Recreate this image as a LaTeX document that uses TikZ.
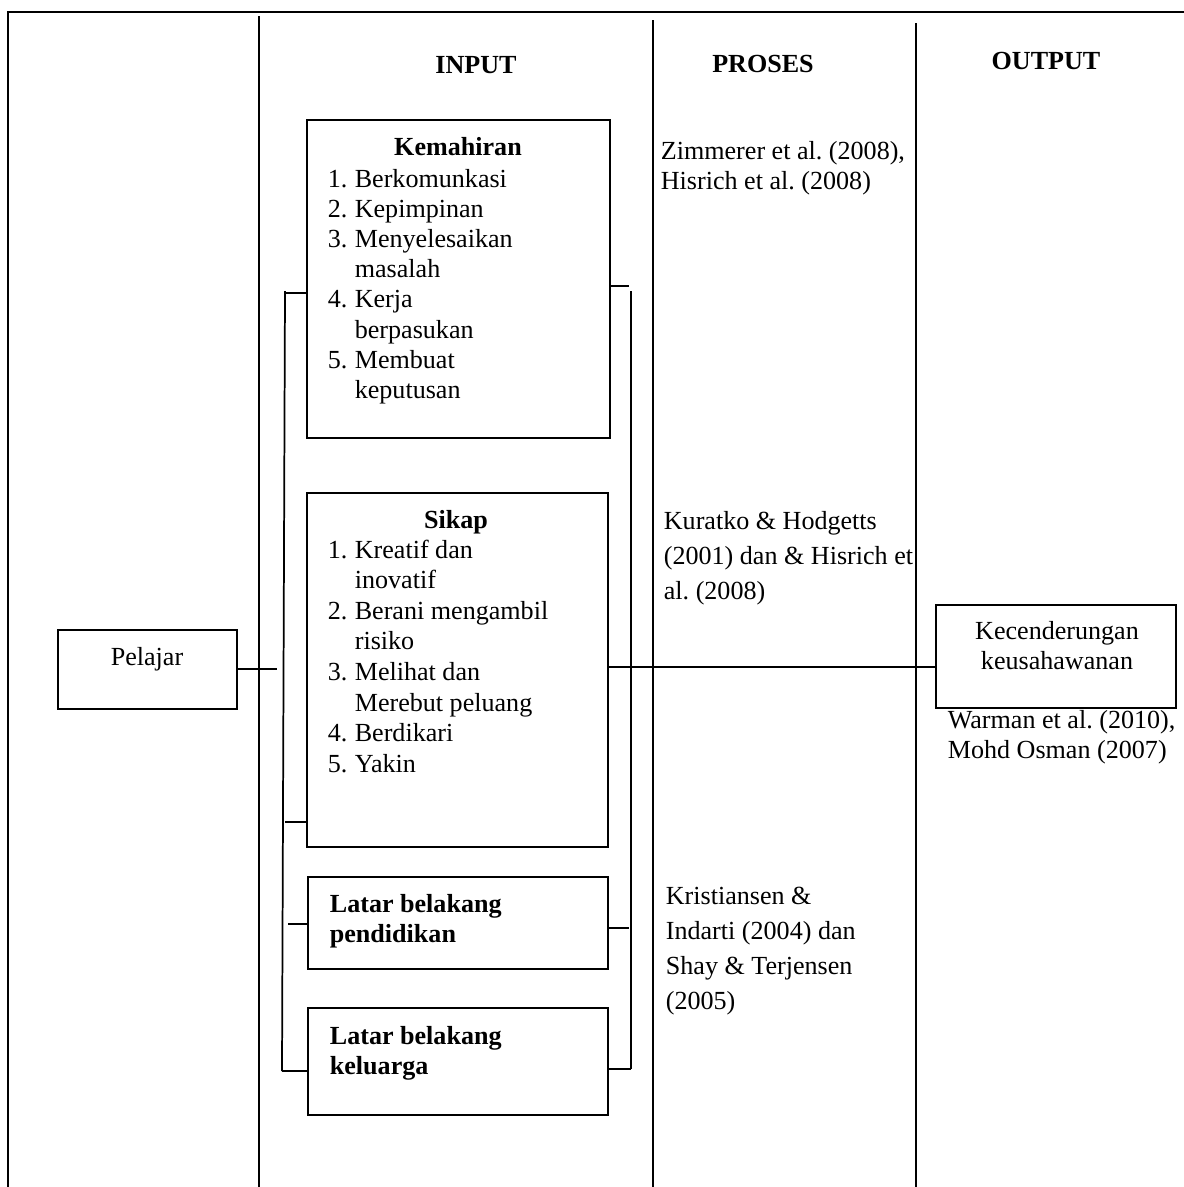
\documentclass[tikz,border=0pt]{standalone}
\usepackage{fontspec}
\setmainfont{Liberation Serif}
\usetikzlibrary{fit}
\frenchspacing
\begin{document}
\begin{tikzpicture}[x=0.46pt,y=-0.46pt,line width=0.8pt,
  boxst/.style={draw,line width=0.9pt,inner sep=0pt},
  txt/.style={inner sep=0pt,font=\fontsize{12}{13.9}\selectfont},
  txtwide/.style={inner sep=0pt,font=\fontsize{12}{16.2}\selectfont},
  hdr/.style={inner sep=0pt,font=\fontsize{12}{14}\selectfont\bfseries,anchor=base},
  bold/.style={inner sep=0pt,font=\fontsize{12}{13.9}\selectfont\bfseries}]
\useasboundingbox (0,0) rectangle (1184,1187);
% frame and columns
\coordinate (fbl) at (8,1187);
\coordinate (ftl) at (8,12);
\coordinate (ftr) at (1184,12);
\draw (fbl) -- (ftl) -- (ftr);
\coordinate (c1t) at (259,16);  \coordinate (c1b) at (259,1187);
\coordinate (c2t) at (653,20);  \coordinate (c2b) at (653,1187);
\coordinate (c3t) at (916,23);  \coordinate (c3b) at (916,1187);
\draw (c1t) -- (c1b);
\draw (c2t) -- (c2b);
\draw (c3t) -- (c3b);
% headers
\node[hdr] (hin) at (476,73) {INPUT};
\node[hdr] (hpr) at (763,72) {PROSES};
\node[hdr] (hout) at (1046,69) {OUTPUT};
% boxes
\node[boxst,fit={(307,120) (610,438)}] (kem) {};
\node[boxst,fit={(307,493) (608,847)}] (sik) {};
\node[boxst,fit={(308,877) (608,969)}] (pend) {};
\node[boxst,fit={(308,1008) (608,1115)}] (kel) {};
\node[boxst,fit={(58,630) (237,709)}] (pel) {};
\node[boxst,fit={(936,605) (1176,708)}] (kec) {};
% box texts
\node[bold,anchor=base] (kemt) at (458,155) {Kemahiran};
\node[txt,anchor=base west] (keml) at (327,187) {\begin{tabular}[t]{@{}l@{\hspace{3.4pt}}l@{}}
1.&Berkomunkasi\\2.&Kepimpinan\\3.&Menyelesaikan\\&masalah\\4.&Kerja\\&berpasukan\\5.&Membuat\\&keputusan\end{tabular}};
\node[bold,anchor=base] (sikt) at (456,528) {Sikap};
\node[inner sep=0pt,font=\fontsize{12}{14.1}\selectfont,anchor=base west] (sikl) at (327,558) {\begin{tabular}[t]{@{}l@{\hspace{3.4pt}}l@{}}
1.&Kreatif dan\\&inovatif\\2.&Berani mengambil\\&risiko\\3.&Melihat dan\\&Merebut peluang\\4.&Berdikari\\5.&Yakin\end{tabular}};
\node[bold,anchor=base west] (pendt) at (329,912) {\begin{tabular}[t]{@{}l@{}}Latar belakang\\pendidikan\end{tabular}};
\node[inner sep=0pt,font=\fontsize{12}{14.2}\selectfont\bfseries,anchor=base west] (kelt) at (329,1044) {\begin{tabular}[t]{@{}l@{}}Latar belakang\\keluarga\end{tabular}};
\node[txt,anchor=base] (pelt) at (147,665) {Pelajar};
\node[txt,anchor=base] (kect) at (1057,639) {\begin{tabular}[t]{@{}c@{}}Kecenderungan\\keusahawanan\end{tabular}};
% references
\node[txt,anchor=base west] (r1) at (660,159) {\begin{tabular}[t]{@{}l@{}}Zimmerer et al. (2008),\\Hisrich et al. (2008)\end{tabular}};
\node[txtwide,anchor=base west] (r2) at (663,529) {\begin{tabular}[t]{@{}l@{}}Kuratko \& Hodgetts\\(2001) dan \& Hisrich et\\al. (2008)\end{tabular}};
\node[txtwide,anchor=base west] (r3) at (665,904) {\begin{tabular}[t]{@{}l@{}}Kristiansen \&\\Indarti (2004) dan\\Shay \& Terjensen\\(2005)\end{tabular}};
\node[inner sep=0pt,font=\fontsize{12}{14.2}\selectfont,anchor=base west] (r4) at (947,728) {\begin{tabular}[t]{@{}l@{}}Warman et al. (2010),\\Mohd Osman (2007)\end{tabular}};
% left bracket
\coordinate (lbt) at (285,291);
\coordinate (lbb) at (282,1071);
\draw (lbt) -- (lbb);
\coordinate (lk) at (285,293);
\coordinate (ls) at (285,822);
\coordinate (lp) at (288,924);
\coordinate (ll) at (282,1071);
\draw (lk) -- (lk -| kem.west);
\draw (ls) -- (ls -| sik.west);
\draw (lp) -- (lp -| pend.west);
\draw (ll) -- (ll -| kel.west);
% right bracket
\coordinate (rbt) at (631,291);
\coordinate (rbb) at (631,1069);
\draw (rbt) -- (rbb);
\coordinate (rk) at (629,286);
\coordinate (rp) at (629,928);
\coordinate (rl) at (631,1069);
\draw (rk -| kem.east) -- (rk);
\draw (rp -| pend.east) -- (rp);
\draw (rl -| kel.east) -- (rl);
% connectors
\coordinate (pj) at (277,669);
\draw (pel.east |- pj) -- (pj);
\draw (sik.east |- 0,667) -- (kec.west |- 0,667);
\end{tikzpicture}
\end{document}
